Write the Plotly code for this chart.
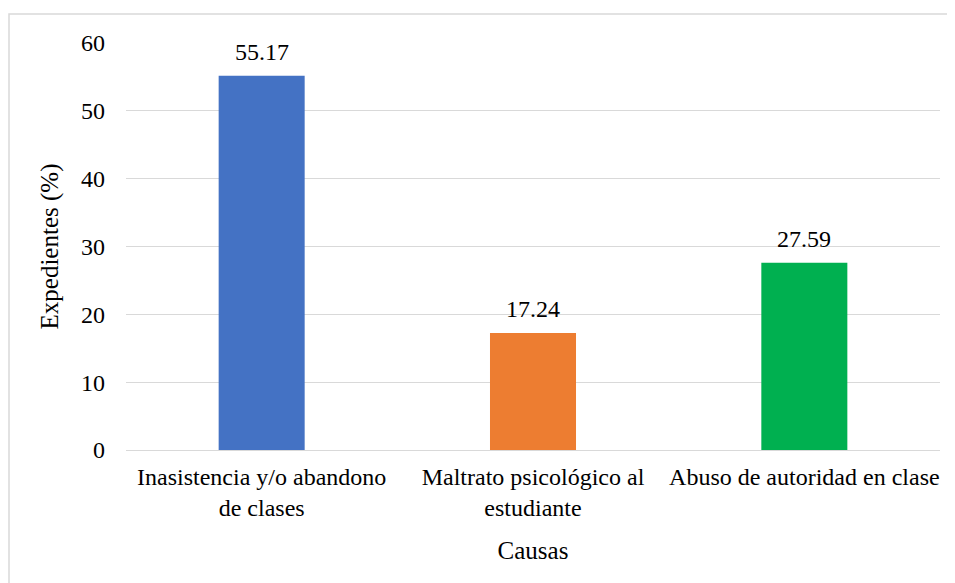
import plotly.graph_objects as go

categories = ["Inasistencia y/o abandono<br>de clases", "Maltrato psicológico al<br>estudiante", "Abuso de autoridad en clase"]
values = [55.17, 17.24, 27.59]
labels = ["55.17", "17.24", "27.59"]
colors = ["#4472C4", "#ED7D31", "#00B050"]
y_ticks = [0, 10, 20, 30, 40, 50, 60]

FONT = "Liberation Serif, Times New Roman, serif"
FS = 24
TFS = 25

fig = go.Figure(go.Bar(
    x=categories, y=values, marker=dict(color=colors, line=dict(width=0)),
    hoverinfo="x+y",
))

for c, v, t in zip(categories, values, labels):
    fig.add_annotation(x=c, y=v, text=t, showarrow=False, yanchor="middle",
                       yshift=24, font=dict(family=FONT, size=FS, color="#000000"))

# page body has an 8px margin; compensate
OFF = 8
W, H = 955 - OFF, 583 - OFF
L, R, T = 126 - OFF, 15, 43 - OFF
ph = 407
B = H - T - ph
pw = W - L - R

fig.update_layout(
    width=W, height=H,
    margin=dict(l=L, r=R, t=T, b=B),
    paper_bgcolor="white", plot_bgcolor="white",
    font=dict(family=FONT, size=FS, color="#000000"),
    bargap=0.683, showlegend=False,
    xaxis=dict(
        title=dict(text="Causas", font=dict(size=TFS), standoff=21),
        showgrid=False, zeroline=False, showline=False, ticks="",
        tickfont=dict(size=FS), ticklabelstandoff=10,
    ),
    yaxis=dict(
        title=dict(text="Expedientes (%)", font=dict(size=TFS), standoff=15),
        range=[0, 60], tickvals=y_ticks, showgrid=True, gridcolor="#d9d9d9",
        gridwidth=1, zeroline=True, zerolinecolor="#d9d9d9", zerolinewidth=1,
        showline=False, ticks="", ticklabelstandoff=20, tickfont=dict(size=FS),
    ),
    shapes=[dict(
        type="rect", xref="paper", yref="paper",
        x0=(9 - OFF - L) / pw, x1=1.2, y0=-0.5, y1=1 + (T - (14 - OFF)) / ph,
        line=dict(color="#d9d9d9", width=1.5), fillcolor="rgba(0,0,0,0)", layer="below",
    )],
)

fig.write_html("out.html")
